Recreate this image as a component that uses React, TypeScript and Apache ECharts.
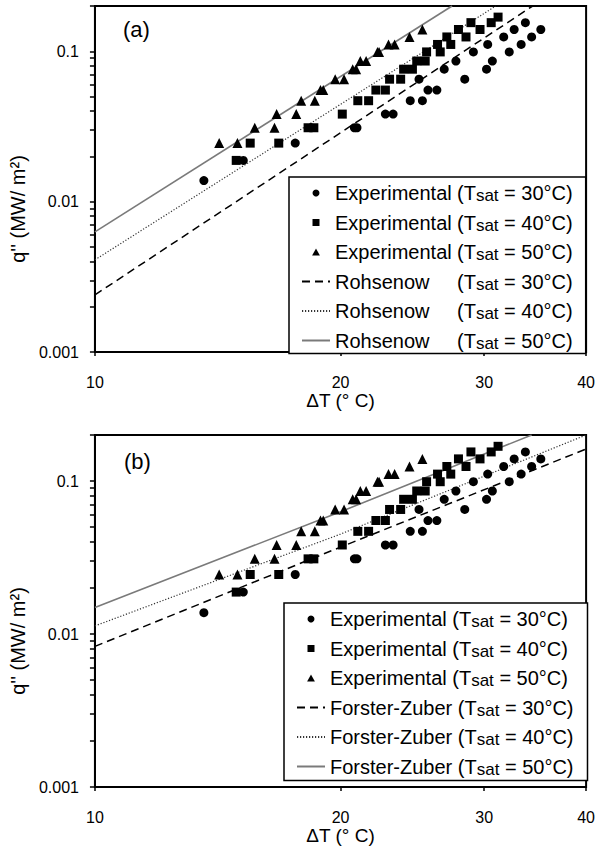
import React, { useEffect, useRef } from 'react';
import * as echarts from 'echarts';

// ---------- data (ΔT in °C, q'' in MW/m²) ----------
const exp30: [number, number][] = [
  [13.6, 0.0138], [15.2, 0.0188], [17.6, 0.0245], [20.8, 0.031], [20.95, 0.031],
  [22.7, 0.0382], [23.2, 0.0382], [24.35, 0.0469], [25.2, 0.0469], [24.96, 0.0652],
  [25.6, 0.0552], [26.25, 0.0552], [26.8, 0.076], [27.7, 0.0861], [28.4, 0.0652],
  [29.1, 0.099], [30.2, 0.076], [30.3, 0.111], [30.7, 0.0861], [31.7, 0.1245],
  [32.2, 0.099], [32.65, 0.1396], [33.3, 0.111], [33.7, 0.155], [34.3, 0.1245], [35.2, 0.1396],
];
const exp40: [number, number][] = [
  [14.9, 0.0188], [15.5, 0.0245], [16.8, 0.0245], [18.25, 0.031], [18.55, 0.031],
  [20.1, 0.0382], [21.0, 0.0469], [21.65, 0.0469], [22.1, 0.0552], [22.7, 0.0552],
  [22.97, 0.0652], [23.7, 0.0652], [23.9, 0.076], [24.5, 0.076], [24.8, 0.0861], [25.4, 0.0861],
  [25.5, 0.099], [26.3, 0.111], [26.5, 0.099], [27.0, 0.1245], [27.3, 0.111], [27.9, 0.1396],
  [28.5, 0.1245], [28.9, 0.155], [29.65, 0.1396], [30.6, 0.155], [31.2, 0.1687],
];
const exp50: [number, number][] = [
  [14.2, 0.0245], [14.95, 0.0245], [15.7, 0.031], [16.6, 0.031], [16.7, 0.0382], [17.65, 0.0382],
  [17.9, 0.0469], [18.6, 0.0469], [18.9, 0.0552], [19.05, 0.0552], [19.7, 0.0652], [20.2, 0.0652],
  [20.7, 0.076], [20.9, 0.076], [21.15, 0.0861], [21.5, 0.0861], [22.2, 0.099], [22.3, 0.099],
  [22.9, 0.111], [23.3, 0.111], [24.3, 0.1245], [25.2, 0.1396],
];
const rohsenow30: [number, number][] = [[10, 0.0024], [34.4, 0.2]];
const rohsenow40: [number, number][] = [[10, 0.0041], [31.0, 0.2]];
const rohsenow50: [number, number][] = [[10, 0.0063], [27.4, 0.2]];
const forsterZuber30: [number, number][] = [[10, 0.0083], [20, 0.037], [40, 0.162]];
const forsterZuber40: [number, number][] = [[10, 0.0113], [20, 0.045], [40, 0.2]];
const forsterZuber50: [number, number][] = [[10, 0.0149], [20, 0.063], [34.3, 0.2]];

const xTickValues = [10, 20, 30, 40];
const yLabelValues = [0.001, 0.01, 0.1];
const yTickValues = [
  0.001, 0.002, 0.003, 0.004, 0.005, 0.006, 0.007, 0.008, 0.009,
  0.01, 0.02, 0.03, 0.04, 0.05, 0.06, 0.07, 0.08, 0.09,
  0.1, 0.2,
];
const kindNames: Record<string, string> = { e: 'Experimental', r: 'Rohsenow', f: 'Forster-Zuber' };
const tsatValues = ['30', '40', '50'];
const panelTitles = ['(a)', '(b)'];
const xName = 'ΔT (° C)';
const yName = "q'' (MW/ m²)";

const FONT = "'Liberation Sans', Arial, sans-serif";
const ICONS = ['circle', 'path://M0,0L10,0L10,10L0,10Z', 'path://M5,0L10,9L0,9Z'];

export default function App() {
  const ref = useRef<HTMLDivElement>(null);
  useEffect(() => {
    document.body.style.margin = '0';
    if (!ref.current) return;
    const chart = echarts.init(ref.current, undefined, { renderer: 'svg' });

    const grids = [
      { left: 85, top: 6, width: 507, height: 346 },
      { left: 85, top: 435, width: 507, height: 352 },
    ];

    const xAxes = grids.map((_, i) => ({
      type: 'log', logBase: 10, gridIndex: i, min: 10, max: 40,
      name: xName, nameLocation: 'middle', nameGap: 37,
      nameTextStyle: { fontSize: 19, color: '#000', fontFamily: FONT },
      axisLine: { show: true, onZero: false, lineStyle: { color: '#000', width: 2 } },
      axisTick: { show: true, inside: false, length: 4, lineStyle: { color: '#000', width: 1.5 }, customValues: xTickValues },
      axisLabel: { show: true, margin: 22, fontSize: 16, color: '#000', fontFamily: FONT, customValues: xTickValues,
        formatter: (v: number) => String(+Number(v).toPrecision(6)) },
      minorTick: { show: false }, splitLine: { show: false },
    }));
    const yAxes = grids.map((_, i) => ({
      type: 'log', logBase: 10, gridIndex: i, min: 0.001, max: 0.2,
      name: yName, nameLocation: 'middle', nameGap: 50, nameRotate: 90,
      nameTextStyle: { fontSize: 20, color: '#000', fontFamily: FONT, padding: [0, 60, 0, 0] },
      axisLine: { show: true, onZero: false, lineStyle: { color: '#000', width: 2 } },
      axisTick: { show: true, inside: false, length: 5, lineStyle: { color: '#000', width: 1.5 }, customValues: yTickValues },
      axisLabel: { show: true, margin: 16, fontSize: 16, color: '#000', fontFamily: FONT, customValues: yLabelValues,
        formatter: (v: number) => String(+Number(v).toPrecision(6)) },
      minorTick: { show: false }, splitLine: { show: false },
    }));

    const scatter = (panel: string, idx: number, t: string, data: [number, number][], symbol: string, size: number) => ({
      type: 'scatter', name: `${panel}|e|${t}`, xAxisIndex: idx, yAxisIndex: idx, data,
      symbol, symbolSize: size, itemStyle: { color: '#000', opacity: 1 }, z: 3, silent: true,
      emphasis: { disabled: true },
    });
    const dashStyles = [
      { color: '#000', width: 1.5, type: [8, 5] },
      { color: '#333', width: 1.2, type: [1.2, 1.8] },
      { color: '#7a7a7a', width: 1.6, type: 'solid' },
    ];
    const line = (panel: string, kind: string, idx: number, t: number, data: [number, number][]) => ({
      type: 'line', name: `${panel}|${kind}|${tsatValues[t]}`, xAxisIndex: idx, yAxisIndex: idx, data,
      showSymbol: false, symbol: 'none', lineStyle: dashStyles[t], itemStyle: { color: dashStyles[t].color },
      z: 2, silent: true, clip: true, emphasis: { disabled: true },
    });

    const series = [
      scatter('a', 0, '30', exp30, 'circle', 9),
      scatter('a', 0, '40', exp40, 'rect', 9),
      scatter('a', 0, '50', exp50, 'triangle', 10),
      line('a', 'r', 0, 0, rohsenow30),
      line('a', 'r', 0, 1, rohsenow40),
      line('a', 'r', 0, 2, rohsenow50),
      scatter('b', 1, '30', exp30, 'circle', 9),
      scatter('b', 1, '40', exp40, 'rect', 9),
      scatter('b', 1, '50', exp50, 'triangle', 10),
      line('b', 'f', 1, 0, forsterZuber30),
      line('b', 'f', 1, 1, forsterZuber40),
      line('b', 'f', 1, 2, forsterZuber50),
    ];

    const makeFormatter = (fixed: boolean) => (name: string) => {
      const [, kind, t] = name.split('|');
      const label = kindNames[kind];
      const head = fixed ? `{na|${label}}` : `{nb|${label} }`;
      return `${head}{m|(T}{s|sat}{m| = ${t}°C)}`;
    };
    const rich = {
      na: { fontSize: 20, lineHeight: 22, width: 122, fontFamily: FONT, color: '#000' },
      nb: { fontSize: 20, lineHeight: 22, fontFamily: FONT, color: '#000' },
      m: { fontSize: 20, lineHeight: 22, fontFamily: FONT, color: '#000' },
      s: { fontSize: 17, lineHeight: 12, verticalAlign: 'bottom', fontFamily: FONT, color: '#000' },
    };
    const legendBase = {
      orient: 'vertical', itemWidth: 28, itemHeight: 7, itemGap: 7.5, symbolKeepAspect: true,
      borderColor: '#000', borderWidth: 1.5, backgroundColor: '#fff', selectedMode: false,
      textStyle: { fontSize: 20, lineHeight: 22, color: '#000', fontFamily: FONT, rich },
    };
    const namesFor = (p: string, k: string) => [
      ...tsatValues.map((t, i) => ({ name: `${p}|e|${t}`, icon: ICONS[i], itemStyle: { color: '#000', opacity: 1 } })),
      ...tsatValues.map((t) => ({ name: `${p}|${k}|${t}`, itemStyle: { color: 'rgba(0,0,0,0)', opacity: 0, borderWidth: 0 } })),
    ];

    chart.setOption({
      animation: false,
      textStyle: { fontFamily: FONT },
      title: [
        { text: panelTitles[0], left: 123, top: 18, padding: 0, textStyle: { fontSize: 22, fontWeight: 'normal', color: '#000', fontFamily: FONT } },
        { text: panelTitles[1], left: 124, top: 450, padding: 0, textStyle: { fontSize: 22, fontWeight: 'normal', color: '#000', fontFamily: FONT } },
      ],
      grid: grids.map((g) => ({ ...g, show: true, borderColor: '#000', borderWidth: 2, containLabel: false })),
      xAxis: xAxes,
      yAxis: yAxes,
      legend: [
        { ...legendBase, left: 289, top: 177, padding: [5, 13, 2, 12], data: namesFor('a', 'r'), formatter: makeFormatter(true) },
        { ...legendBase, left: 284, top: 603, padding: [5, 14, 3, 12], data: namesFor('b', 'f'), formatter: makeFormatter(false) },
      ],
      series,
    } as any);
    return () => chart.dispose();
  }, []);
  return <div ref={ref} style={{ width: 598, height: 850 }} />;
}
